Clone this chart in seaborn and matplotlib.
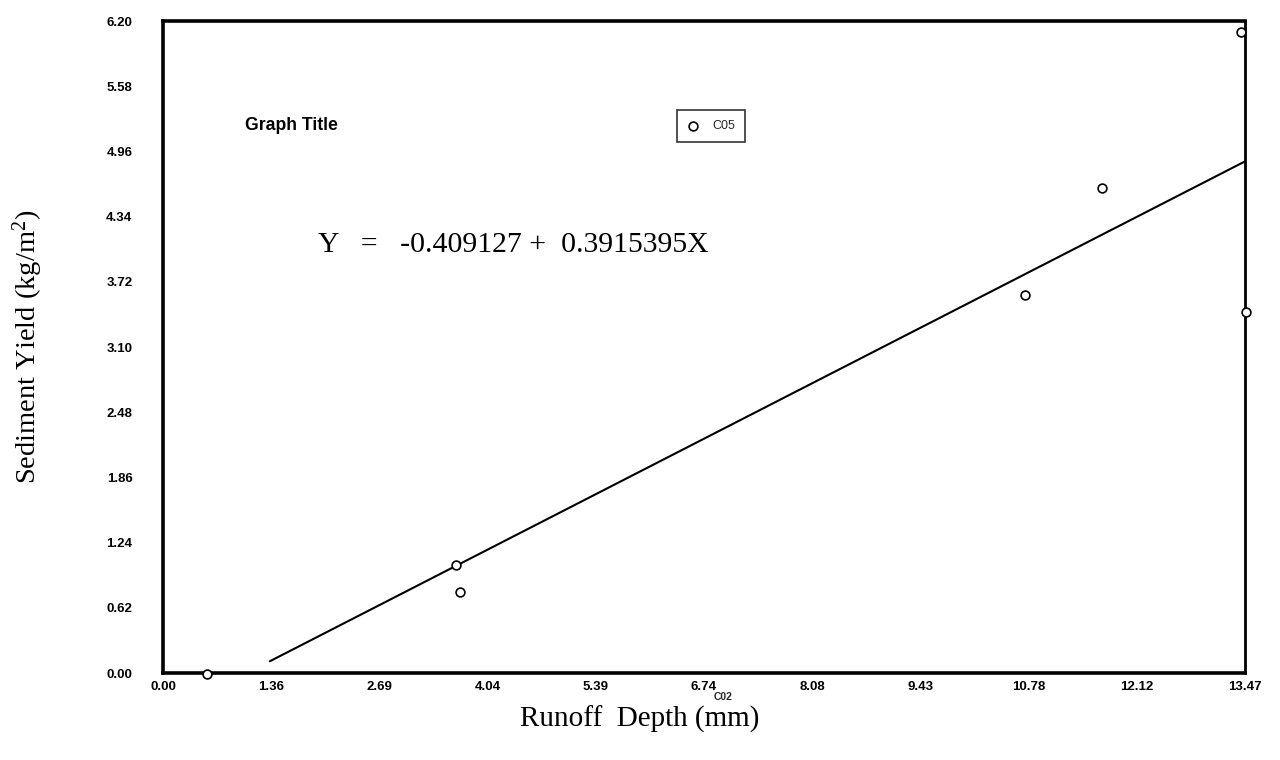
import numpy as np
import pandas as pd
import matplotlib
matplotlib.use("Agg")
import matplotlib.pyplot as plt
import seaborn as sns

# ---- data ----
runoff_depth = [0.55, 3.65, 3.70, 10.73, 11.69, 13.42, 13.48]
sediment_yield = [-0.01, 1.03, 0.77, 3.59, 4.61, 6.10, 3.43]
series_name = "C05"

intercept = -0.409127
slope = 0.3915395
fit_x = [1.33, 13.47]

x_ticks = [0.00, 1.347, 2.694, 4.041, 5.388, 6.735, 8.082, 9.429, 10.776, 12.123, 13.47]
x_tick_labels = ["0.00", "1.36", "2.69", "4.04", "5.39", "6.74", "8.08", "9.43", "10.78", "12.12", "13.47"]
y_ticks = [0.00, 0.62, 1.24, 1.86, 2.48, 3.10, 3.72, 4.34, 4.96, 5.58, 6.20]
y_tick_labels = ["0.00", "0.62", "1.24", "1.86", "2.48", "3.10", "3.72", "4.34", "4.96", "5.58", "6.20"]

sns.set_theme(style="white")
plt.rcParams["font.family"] = ["Liberation Sans Narrow", "Liberation Sans", "DejaVu Sans"]
plt.rcParams["mathtext.fontset"] = "custom"
plt.rcParams["mathtext.rm"] = "Liberation Serif"
plt.rcParams["mathtext.it"] = "Liberation Serif:italic"

fig = plt.figure(figsize=(12.8, 7.6), dpi=100)
ax = fig.add_axes([163/1280, 1 - 673/760, (1245-163)/1280, (673-21)/760])

fit_df = pd.DataFrame({"x": fit_x, "y": [intercept + slope * v for v in fit_x]})
sns.lineplot(data=fit_df, x="x", y="y", ax=ax, color="black", linewidth=1.5, legend=False)

pts = pd.DataFrame({"x": runoff_depth, "y": sediment_yield})
sns.scatterplot(data=pts, x="x", y="y", ax=ax, marker="o", s=40,
                facecolor="white", edgecolor="black", linewidth=1.2,
                label=series_name, zorder=5, clip_on=False)

ax.set_xlim(0, 13.47)
ax.set_ylim(0, 6.20)
ax.set_xticks(x_ticks)
ax.set_xticklabels(x_tick_labels)
ax.set_yticks(y_ticks)
ax.set_yticklabels(y_tick_labels)
ax.tick_params(axis="both", direction="in", length=3, width=1, color="black",
               labelsize=9.5, labelcolor="black")
ax.tick_params(axis="y", pad=22)
ax.tick_params(axis="x", pad=6)
for lab in ax.get_xticklabels() + ax.get_yticklabels():
    lab.set_fontweight("bold")

for side in ["left", "bottom", "top"]:
    ax.spines[side].set_linewidth(2.6)
    ax.spines[side].set_color("black")
ax.spines["right"].set_linewidth(2.0)
ax.spines["right"].set_color("black")

serif = ["Liberation Serif", "DejaVu Serif"]
ax.set_xlabel("Runoff  Depth (mm)", family=serif, fontsize=21, color="black")
ax.xaxis.set_label_coords((640-163)/1082, (673-719)/652)
ax.xaxis.label.set_va("center")
ax.set_ylabel("Sediment Yield (kg/m$^2$)", family=serif, fontsize=20.5, color="black")
ax.yaxis.set_label_coords((28-163)/1082, (673-347)/652)
ax.yaxis.label.set_va("center")

ax.text((245-163)/1082, (673-126)/652, "Graph Title", transform=ax.transAxes,
        fontsize=12.7, fontweight="bold", va="center", ha="left", color="black")
ax.text((318-163)/1082, (673-245)/652, "Y   =   -0.409127 +  0.3915395X",
        transform=ax.transAxes, family=serif, fontsize=21.4, va="center", ha="left", color="black")

fig.text(723/1280, 1 - 697/760, "C02", fontsize=7.5, fontweight="bold", ha="center", va="center")

leg = ax.legend(loc="upper left", bbox_to_anchor=((677-163)/1082, (673-110)/652),
                frameon=True, fancybox=False, fontsize=9, handletextpad=1.0,
                borderpad=0.8, borderaxespad=0, handlelength=1.0, markerscale=1.0)
leg.get_frame().set_edgecolor("black")
leg.get_frame().set_linewidth(1.2)

fig.savefig("out.png", dpi=100, facecolor="white")
